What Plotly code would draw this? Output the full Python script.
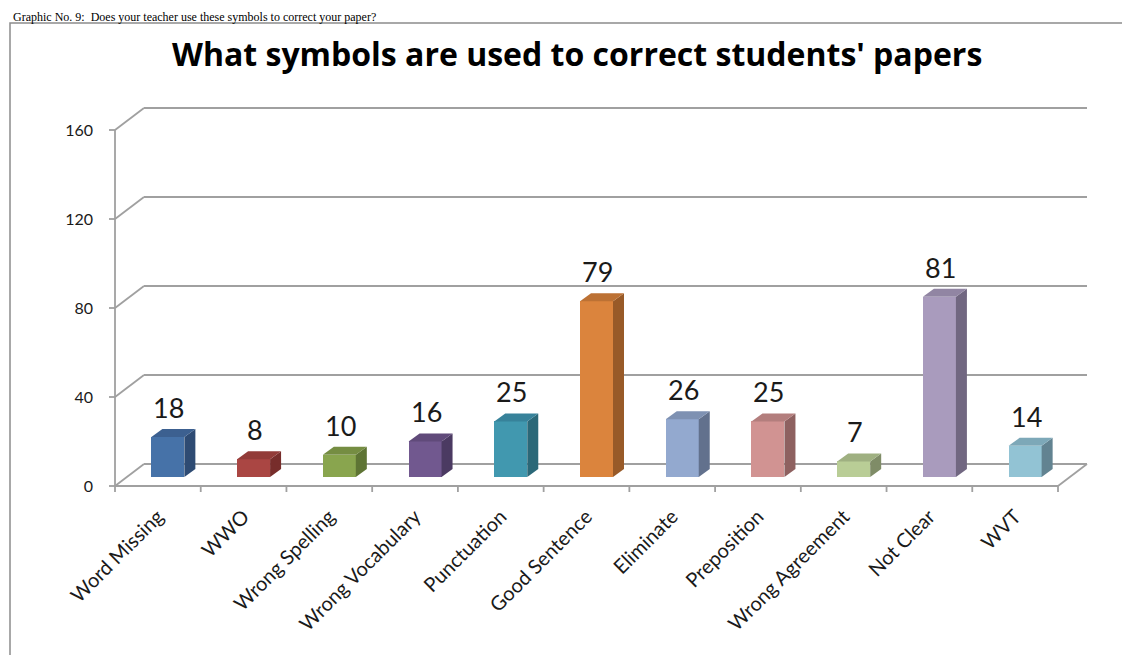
import plotly.graph_objects as go

# ---------------- data ----------------
categories = ["Word Missing", "WWO", "Wrong Spelling", "Wrong Vocabulary", "Punctuation",
              "Good Sentence", "Eliminate", "Preposition", "Wrong Agreement", "Not Clear", "WVT"]
values = [18, 8, 10, 16, 25, 79, 26, 25, 7, 81, 14]
y_ticks = [0, 40, 80, 120, 160]

front_colors = ["#4672A8", "#AA4643", "#89A54E", "#71588F", "#4198AF", "#DB843D",
                "#93A9CF", "#D19392", "#B9CD96", "#A99BBD", "#92C3D4"]
side_colors = ["#2E4B73", "#772D2B", "#5E7434", "#4B3A62", "#2B6878", "#985A28",
               "#62718D", "#8E6160", "#7F8C67", "#716781", "#628391"]
top_colors = ["#3C6090", "#923B38", "#758D42", "#604A7A", "#37829A", "#BC7134",
              "#7E91B2", "#B37E7D", "#9FB081", "#9185A3", "#7DA8B8"]

title_text = "What symbols are used to correct students' papers"
caption_text = "Graphic No. 9:  Does your teacher use these symbols to correct your paper?"

# ---------------- geometry (page pixels) ----------------
OFF = 8                      # default body margin of the html page
FIG_W, FIG_H = 1130 - 2 * OFF, 663 - 2 * OFF
X_LEFT_PX, X_RIGHT_PX = 115, 1058   # front floor edge, x = -0.5 .. n-0.5
Y0_PX, Y160_PX = 486, 130           # front wall: value 0 and 160
DEPTH_DX, DEPTH_DY = 29, 22         # full floor depth
BAR_DX, BAR_DY = 11, 8              # bar depth
BAR_FRONT_DY = 9                    # bar front face lifted from front plane
BAR_W_PX = 33
BAR_CENTER_SHIFT_PX = 10

FONT = "Lato"

n = len(categories)
ux = (X_RIGHT_PX - X_LEFT_PX) / n
uy = (Y0_PX - Y160_PX) / 160.0

pad_l, pad_r, pad_b, pad_t = 12, 6, 10, 6
x_lo = -0.5 - pad_l / ux
x_hi = n - 0.5 + (DEPTH_DX + pad_r) / ux
y_lo = -pad_b / uy
y_hi = 160 + (DEPTH_DY + pad_t) / uy

left_px = X_LEFT_PX - pad_l
right_px = X_RIGHT_PX + DEPTH_DX + pad_r
bottom_px = Y0_PX + pad_b
top_px = Y160_PX - DEPTH_DY - pad_t

m_l = left_px - OFF
m_r = FIG_W - (right_px - OFF)
m_t = top_px - OFF
m_b = FIG_H - (bottom_px - OFF)
plot_w = right_px - left_px
plot_h = bottom_px - top_px


def paper_x(px):
    return (px - left_px) / plot_w


def paper_y(py):
    return 1 - (py - top_px) / plot_h


ddx = DEPTH_DX / ux
ddy = DEPTH_DY / uy
bdx = BAR_DX / ux
bdy = BAR_DY / uy
bar_base = BAR_FRONT_DY / uy
bar_w = BAR_W_PX / ux
bar_off = BAR_CENTER_SHIFT_PX / ux - bar_w / 2

GRID = "#A0A0A0"
GW = 1.8
shapes = []

# back wall gridlines + diagonals
for v in y_ticks:
    shapes.append(dict(type="line", xref="x", yref="y", layer="below",
                       x0=-0.5 + ddx, x1=n - 0.5 + ddx, y0=v + ddy, y1=v + ddy,
                       line=dict(color=GRID, width=GW)))
    shapes.append(dict(type="line", xref="x", yref="y", layer="below",
                       x0=-0.5, x1=-0.5 + ddx, y0=v, y1=v + ddy,
                       line=dict(color=GRID, width=GW)))
# floor front edge and right diagonal
shapes.append(dict(type="line", xref="x", yref="y", layer="below",
                   x0=-0.5, x1=n - 0.5, y0=0, y1=0, line=dict(color=GRID, width=GW)))
shapes.append(dict(type="line", xref="x", yref="y", layer="below",
                   x0=n - 0.5, x1=n - 0.5 + ddx, y0=0, y1=ddy, line=dict(color=GRID, width=GW)))
# y axis line
shapes.append(dict(type="line", xref="x", yref="y", layer="below",
                   x0=-0.5, x1=-0.5, y0=0, y1=160, line=dict(color=GRID, width=GW)))
# y ticks
for v in y_ticks:
    shapes.append(dict(type="line", xref="x", yref="y", layer="below",
                       x0=-0.5 - 6 / ux, x1=-0.5, y0=v, y1=v, line=dict(color=GRID, width=GW)))
# x ticks at category boundaries
for i in range(n + 1):
    shapes.append(dict(type="line", xref="x", yref="y", layer="below",
                       x0=i - 0.5, x1=i - 0.5, y0=0, y1=-6 / uy, line=dict(color=GRID, width=GW)))

# bar side and top faces
for i, v in enumerate(values):
    x0 = i + bar_off
    x1 = x0 + bar_w
    top = bar_base + v
    side = (f"M {x1} {bar_base} L {x1 + bdx} {bar_base + bdy} "
            f"L {x1 + bdx} {top + bdy} L {x1} {top} Z")
    topf = (f"M {x0} {top} L {x0 + bdx} {top + bdy} "
            f"L {x1 + bdx} {top + bdy} L {x1} {top} Z")
    shapes.append(dict(type="path", xref="x", yref="y", layer="above", path=side,
                       fillcolor=side_colors[i], line=dict(width=0)))
    shapes.append(dict(type="path", xref="x", yref="y", layer="above", path=topf,
                       fillcolor=top_colors[i], line=dict(width=0)))

# chart border (right and bottom edges fall outside the picture)
shapes.append(dict(type="rect", xref="paper", yref="paper",
                   x0=paper_x(10), x1=paper_x(1150), y0=paper_y(23), y1=paper_y(700),
                   line=dict(color="#8C8C8C", width=1.5), fillcolor="rgba(0,0,0,0)", layer="below"))

fig = go.Figure()
fig.add_trace(go.Bar(x=list(range(n)), y=values, base=bar_base, width=bar_w, offset=bar_off,
                     marker=dict(color=front_colors, line=dict(width=0)),
                     hoverinfo="skip", showlegend=False))

annotations = []
for i, v in enumerate(values):
    annotations.append(dict(x=i + bar_off + bar_w / 2 + 1 / ux, y=bar_base + v + bdy,
                            xref="x", yref="y", text=str(v), showarrow=False,
                            yanchor="bottom", yshift=3,
                            font=dict(family=FONT, size=27, color="#1A1A1A")))
annotations.append(dict(x=paper_x(577), y=paper_y(53), xref="paper", yref="paper",
                        text=f"<b>{title_text}</b>", showarrow=False,
                        xanchor="center", yanchor="middle",
                        font=dict(family="Open Sans", size=32, color="#000000")))
annotations.append(dict(x=paper_x(12), y=paper_y(9), xref="paper", yref="paper",
                        text=caption_text, showarrow=False, xanchor="left", yanchor="top",
                        borderpad=0,
                        font=dict(family="Liberation Serif", size=12, color="#000000")))

fig.update_layout(
    width=FIG_W, height=FIG_H,
    margin=dict(l=m_l, r=m_r, t=m_t, b=m_b, pad=0),
    paper_bgcolor="white", plot_bgcolor="rgba(0,0,0,0)",
    shapes=shapes, annotations=annotations,
    bargap=0,
    xaxis=dict(range=[x_lo, x_hi], tickvals=list(range(n)), ticktext=categories,
               tickangle=-45, ticks="", showgrid=False, zeroline=False, showline=False,
               ticklabelstandoff=4,
               tickfont=dict(family=FONT, size=20, color="#1A1A1A")),
    yaxis=dict(range=[y_lo, y_hi], tickvals=y_ticks, ticks="", showgrid=False,
               zeroline=False, showline=False, ticklabelstandoff=9,
               tickfont=dict(family=FONT, size=16, color="#1A1A1A")),
)

fig.write_html("out.html")
